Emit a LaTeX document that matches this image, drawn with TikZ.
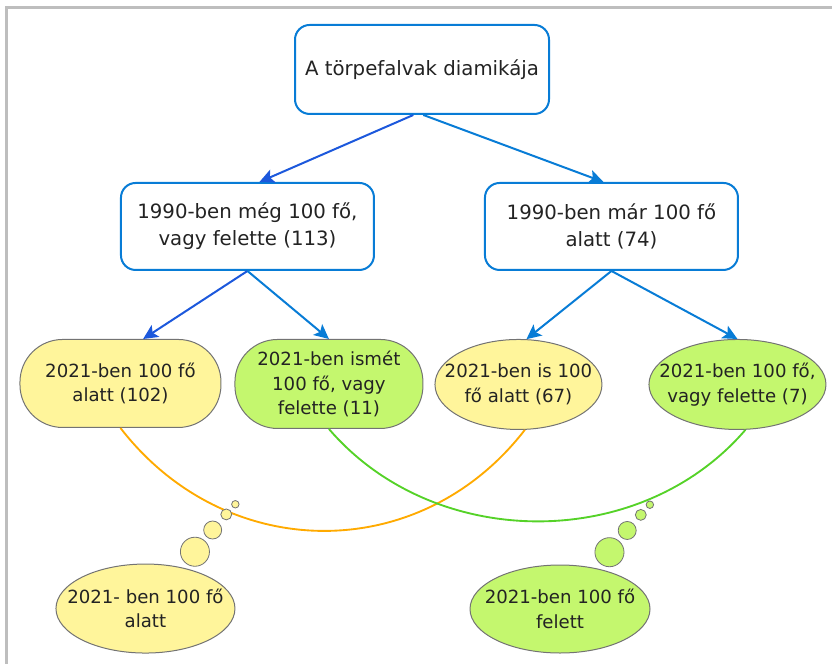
\documentclass[tikz,border=0pt]{standalone}
\usepackage{fontspec}
\setmainfont{DejaVu Sans}
\usetikzlibrary{positioning,shapes.geometric,arrows.meta}

\definecolor{boxblue}{RGB}{8,124,214}
\definecolor{arrdark}{RGB}{28,88,220}
\definecolor{leafyellow}{RGB}{255,245,155}
\definecolor{leafgreen}{RGB}{196,247,110}
\definecolor{edgegray}{RGB}{115,115,115}
\definecolor{framegray}{RGB}{190,190,190}
\definecolor{orangeline}{RGB}{255,170,0}
\definecolor{greenline}{RGB}{85,210,40}
\definecolor{txt}{RGB}{35,35,35}

\newcommand\boxfont{\fontsize{14.8}{20.5}\selectfont}
\newcommand\leaffont{\fontsize{13.6}{18.4}\selectfont}

\begin{document}
\begin{tikzpicture}[
    box/.style={draw=boxblue, line width=1.5pt, rounded corners=11pt, fill=white,
      align=center, text=txt, font=\boxfont, inner sep=0pt},
    pill/.style={draw=edgegray, line width=0.75pt, rounded corners=32pt,
      align=center, text=txt, font=\leaffont, inner sep=0pt},
    oval/.style={draw=edgegray, line width=0.75pt, ellipse, inner sep=0pt},
    ovaltext/.style={align=center, text=txt, font=\leaffont},
    arr/.style={line width=1.5pt, -{Stealth[length=11pt,width=10.5pt,inset=2.5pt]}},
    link/.style={line width=1.4pt},
    puff/.style={draw=edgegray, line width=0.6pt},
  ]
  \useasboundingbox (0,0) rectangle (624pt,-498pt);
  \draw[framegray, line width=2.5pt] (5pt,-498pt) |- (624pt,-5.8pt);

  \node[box, minimum width=190.5pt, minimum height=66.75pt] at (316.5pt,-52.1pt) (root) {A törpefalvak diamikája};

  \node[box, minimum width=189.75pt, minimum height=65.25pt, below=50.25pt of root, xshift=-130.9pt] (m1) {1990-ben még 100 fő,\\vagy felette (113)};
  \node[box, minimum width=189.75pt, minimum height=65.25pt, below=50.25pt of root, xshift=142.1pt] (m2) {1990-ben már 100 fő\\alatt (74)};

  \node[pill, fill=leafyellow, minimum width=150.75pt, minimum height=66pt, below=51pt of m1, xshift=-95.25pt] (l1) {2021-ben 100 fő\\alatt (102)};
  \node[pill, fill=leafgreen, minimum width=141pt, minimum height=66.75pt, below=51pt of m1, xshift=61.1pt] (l2) {2021-ben ismét\\100 fő, vagy\\felette (11)};
  \node[oval, fill=leafyellow, minimum width=125.25pt, minimum height=67.5pt, below=51pt of m2, xshift=-69.75pt,
    label={[ovaltext]center:{2021-ben is 100\\fő alatt (67)}}] (l3) {};
  \node[oval, fill=leafgreen, minimum width=132.75pt, minimum height=67.5pt, below=51pt of m2, xshift=94.5pt,
    label={[ovaltext]center:{2021-ben 100 fő,\\vagy felette (7)}}] (l4) {};

  \node[oval, fill=leafyellow, minimum width=134.25pt, minimum height=66.75pt,
    label={[ovaltext]center:{2021- ben 100 fő\\alatt}}] at (109.1pt,-456.4pt) (b1) {};
  \node[oval, fill=leafgreen, minimum width=135pt, minimum height=66pt,
    label={[ovaltext]center:{2021-ben 100 fő\\felett}}] at (420pt,-456.75pt) (b2) {};

  \draw[arr, draw=arrdark] ([xshift=-6.5pt]root.south) -- ([xshift=9pt]m1.north);
  \draw[arr, draw=boxblue] ([xshift=1pt]root.south) -- ([xshift=-6pt]m2.north);
  \draw[arr, draw=arrdark] (m1.south) -- ([xshift=17pt]l1.north);
  \draw[arr, draw=boxblue] (m1.south) -- (l2.north);
  \draw[arr, draw=boxblue] (m2.south) -- (l3.80);
  \draw[arr, draw=boxblue] (m2.south) -- (l4.north);

  \draw[link, draw=orangeline] (l1.south) .. controls +(78.75pt,-102pt) and +(-78.75pt,-102pt) .. (l3.-82);
  \draw[link, draw=greenline] (l2.south) .. controls +(79pt,-92pt) and +(-79pt,-92pt) .. (l4.-80);

  \foreach \dx/\dy/\r in {37.1/42.6/10.9, 50.4/58.9/6.75, 60.6/70.6/4.1, 67.4/78.2/2.8} {
    \draw[puff, fill=leafyellow] ([shift={(\dx pt,\dy pt)}]b1.center) circle (\r pt);
    \draw[puff, fill=leafgreen] ([shift={(\dx pt,\dy pt)}]b2.center) circle (\r pt);
  }
\end{tikzpicture}
\end{document}
